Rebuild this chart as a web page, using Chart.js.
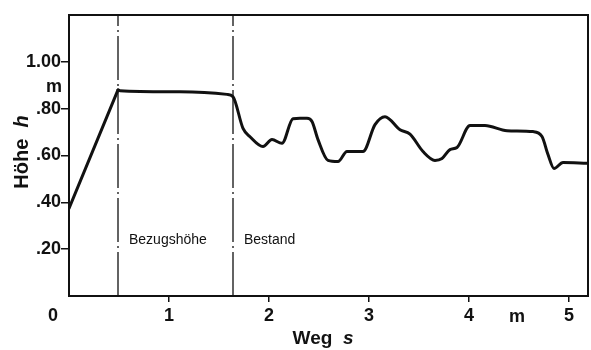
<!DOCTYPE html>
<html>
<head>
<meta charset="utf-8">
<script src="https://cdn.jsdelivr.net/npm/chart.js@4.4.1/dist/chart.umd.min.js"></script>
<style>
  html, body { margin: 0; background: #fff; }
  canvas { display: block; }
</style>
</head>
<body>
<canvas id="profil" width="591" height="350"></canvas>
<script>
const wegS = [0, 0.49, 0.51, 1.11, 1.58, 1.64, 1.74, 1.81, 1.94, 2.03, 2.13, 2.24, 2.31, 2.38, 2.43, 2.49,
  2.59, 2.69, 2.78, 2.94, 3.06, 3.16, 3.31, 3.41, 3.54, 3.66, 3.73, 3.81, 3.88, 4.01, 4.16, 4.38, 4.64,
  4.73, 4.79, 4.85, 4.94, 5.18];
const hoeheH = [0.374, 0.88, 0.877, 0.872, 0.861, 0.851, 0.716, 0.68, 0.638, 0.668, 0.652, 0.757, 0.759, 0.759, 0.745, 0.668,
  0.579, 0.574, 0.617, 0.617, 0.732, 0.766, 0.71, 0.691, 0.617, 0.579, 0.587, 0.625, 0.634, 0.728, 0.728, 0.706, 0.702,
  0.681, 0.604, 0.545, 0.57, 0.567];

// Achsen
const xTicks = [1, 2, 3, 4, 5];
const yTicks = [0.2, 0.4, 0.6, 0.8, 1.0];
const xMax = 5.19;
const yMax = 1.2;

// Trennlinien (strich-punktiert) und ihre Beschriftung
const grenzeS = [0.49, 1.64];
const grenzeText = ['Bezugshöhe', 'Bestand'];

const FONT = '"Liberation Sans", Arial, sans-serif';

const punkte = wegS.map((s, i) => ({ x: s, y: hoeheH[i] }));
// Anstieg bis zur Bezugshöhe ist gerade, danach geglätteter Verlauf
const anstieg = punkte.slice(0, 2);
const verlauf = punkte.slice(1);

const grenzDatasets = grenzeS.map(s => ({
  data: [{ x: s, y: 0 }, { x: s, y: yMax }],
  borderColor: '#222',
  borderWidth: 1.4,
  borderDash: [44, 4, 2, 4],
  pointRadius: 0,
  tension: 0
}));

const beschriftung = {
  id: 'beschriftung',
  afterDraw(chart) {
    const { ctx, chartArea: a, scales: { x, y } } = chart;
    ctx.save();
    // Rahmen
    ctx.strokeStyle = '#111';
    ctx.lineWidth = 2;
    ctx.strokeRect(a.left, a.top, a.right - a.left, a.bottom - a.top);

    ctx.fillStyle = '#111';
    ctx.textBaseline = 'alphabetic';

    // Bereiche
    ctx.font = '14px ' + FONT;
    ctx.textAlign = 'left';
    grenzeS.forEach((s, i) => {
      ctx.fillText(grenzeText[i], x.getPixelForValue(s) + 11, y.getPixelForValue(0.222));
    });

    // Nullpunkt und Einheiten
    ctx.font = 'bold 18px ' + FONT;
    ctx.textAlign = 'center';
    ctx.fillText('0', 53, 321);
    ctx.fillText('m', 517, 322);
    ctx.fillText('m', 54, 92);

    // x-Achsentitel
    ctx.textAlign = 'left';
    ctx.font = 'bold 19px ' + FONT;
    const w1 = ctx.measureText('Weg  ').width;
    ctx.font = 'bold italic 19px ' + FONT;
    const w2 = ctx.measureText('s').width;
    let x0 = 323 - (w1 + w2) / 2;
    ctx.font = 'bold 19px ' + FONT;
    ctx.fillText('Weg  ', x0, 344);
    ctx.font = 'bold italic 19px ' + FONT;
    ctx.fillText('s', x0 + w1, 344);

    // y-Achsentitel
    ctx.translate(28, 152);
    ctx.rotate(-Math.PI / 2);
    ctx.font = 'bold 20px ' + FONT;
    const v1 = ctx.measureText('Höhe  ').width;
    ctx.font = 'bold italic 20px ' + FONT;
    const v2 = ctx.measureText('h').width;
    x0 = -(v1 + v2) / 2;
    ctx.font = 'bold 20px ' + FONT;
    ctx.fillText('Höhe  ', x0, 0);
    ctx.font = 'bold italic 20px ' + FONT;
    ctx.fillText('h', x0 + v1, 0);
    ctx.restore();
  }
};

const linie = {
  borderColor: '#111',
  borderWidth: 3,
  pointRadius: 0,
  borderCapStyle: 'round',
  borderJoinStyle: 'round'
};

new Chart(document.getElementById('profil'), {
  type: 'line',
  data: {
    datasets: [
      { ...linie, data: anstieg, tension: 0 },
      { ...linie, data: verlauf, cubicInterpolationMode: 'monotone' },
      ...grenzDatasets
    ]
  },
  options: {
    responsive: false,
    animation: false,
    devicePixelRatio: 1,
    layout: { padding: { top: 15, right: 3, left: 0, bottom: 0 } },
    plugins: { legend: { display: false }, tooltip: { enabled: false } },
    scales: {
      x: {
        type: 'linear',
        min: 0,
        max: xMax,
        afterBuildTicks: scale => { scale.ticks = xTicks.map(v => ({ value: v })); },
        afterFit: scale => { scale.height = 54; },
        ticks: {
          color: '#111',
          font: { family: FONT, size: 18, weight: 'bold' },
          padding: 3,
          maxRotation: 0,
          callback: v => String(v)
        },
        grid: { drawOnChartArea: false, drawTicks: true, tickLength: 6, color: '#111', lineWidth: 1.5 },
        border: { display: false }
      },
      y: {
        min: 0,
        max: yMax,
        afterBuildTicks: scale => { scale.ticks = yTicks.map(v => ({ value: v })); },
        afterFit: scale => { scale.width = 69; },
        ticks: {
          color: '#111',
          font: { family: FONT, size: 18, weight: 'bold' },
          padding: 0,
          callback: v => v >= 1 ? v.toFixed(2) : v.toFixed(2).slice(1)
        },
        grid: { drawOnChartArea: false, drawTicks: true, tickLength: 8, color: '#111', lineWidth: 1.5 },
        border: { display: false }
      }
    }
  },
  plugins: [beschriftung]
});
</script>
</body>
</html>
